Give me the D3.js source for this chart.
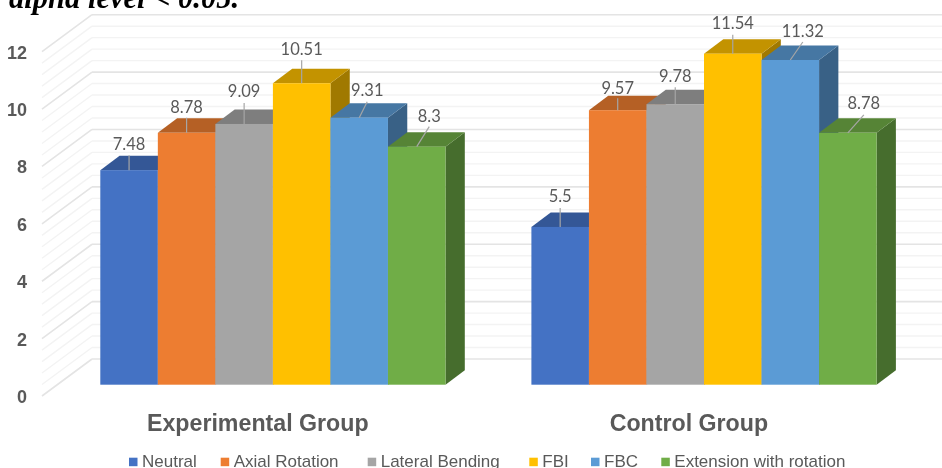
<!DOCTYPE html>
<html>
<head>
<meta charset="utf-8">
<script src="https://cdn.jsdelivr.net/npm/d3@7"></script>
<style>
  html, body { margin: 0; padding: 0; background: #fff; overflow: hidden; }
  text { font-family: "Liberation Sans", sans-serif; }
  svg { filter: blur(0.35px); display: block; }
</style>
</head>
<body>
<div id="chart"></div>
<script>
// data
const groups = ["Experimental Group", "Control Group"];
const seriesNames = ["Neutral", "Axial Rotation", "Lateral Bending", "FBI", "FBC", "Extension with rotation"];
const experimental = [7.48, 8.78, 9.09, 10.51, 9.31, 8.3];
const control = [5.5, 9.57, 9.78, 11.54, 11.32, 8.78];
const yTicks = [0, 2, 4, 6, 8, 10, 12];

const colors = ["#4472c4", "#ed7d31", "#a5a5a5", "#ffc000", "#5b9bd5", "#70ad47"];
const groupValues = [experimental, control];

// dimensions
const width = 942;
const height = 468;
const frontBase = 384.7;      // bars stand on this line
const frontTop = 40.5;        // where 12 would be on the bar front plane
const depth = {x: 19.3, y: -14.5};   // bar depth
const wallOffset = {x: 50, y: -37};  // axis front edge to back wall
const axisX = 42;
const axisBase = 396;
const wallTop = 14.7;

const svg = d3.select("#chart")
    .append("svg")
    .attr("width", width)
    .attr("height", height);

// y on the bar plane, y on the back wall
const y = d3.scaleLinear().domain([0, 12]).range([frontBase, frontTop]);
const yWall = d3.scaleLinear().domain([0, 12]).range([axisBase + wallOffset.y, wallTop]);

const x0 = d3.scaleOrdinal().domain(groups).range([100.3, 531.4]);
const x1 = d3.scaleBand().domain(seriesNames).range([0, 345.2]);

// clipped caption above the chart
svg.append("text")
    .attr("x", -7)
    .attr("y", 8)
    .style("font-family", "'Liberation Serif', serif")
    .attr("font-size", 30.5)
    .attr("font-weight", "bold")
    .attr("font-style", "italic")
    .attr("fill", "#000")
    .text("l alpha level < 0.05.");

// gridlines, major every 2 and minor every 0.4
const gridValues = d3.range(0, 31).map(d => d * 0.4);
const grid = svg.append("g");
gridValues.forEach(function(v, i) {
    const major = i % 5 === 0;
    const c = major ? "#e4e4e4" : "#f3f3f3";
    const w = major ? 1.6 : 1.4;
    grid.append("line")
        .attr("x1", axisX + wallOffset.x).attr("x2", width)
        .attr("y1", yWall(v)).attr("y2", yWall(v))
        .attr("stroke", c).attr("stroke-width", w);
    grid.append("line")
        .attr("x1", axisX).attr("x2", axisX + wallOffset.x)
        .attr("y1", yWall(v) - wallOffset.y).attr("y2", yWall(v))
        .attr("stroke", c).attr("stroke-width", w);
});

// y axis labels
svg.append("g").selectAll("text")
    .data(yTicks)
    .join("text")
    .attr("x", 27)
    .attr("y", d => yWall(d) - wallOffset.y + 7)
    .attr("text-anchor", "end")
    .attr("font-size", 18)
    .attr("font-weight", "bold")
    .attr("fill", "#595959")
    .text(d => d);

// label shift from the bar's top centre, per group and series
const labelShiftX = [[0, 0, 0, 0, 8, 12.5], [0, 0, 0, 0, 12.5, 16]];
const labelShiftY = [[-27, -27, -34, -35, -29, -32], [-32, -23, -29, -32, -30, -31]];
const leaderStop = [[-15, -15, -21, -23, -16, -20], [-19, -12, -17, -19, -18, -18]];

const shade = (c, k) => d3.color(c).darker(k).formatHex();

groups.forEach(function(group, g) {
    const bars = svg.append("g");
    groupValues[g].forEach(function(v, s) {
        const name = seriesNames[s];
        const left = x0(group) + x1(name);
        const right = left + x1.bandwidth();
        const top = y(v);

        // side face, then top face, then the front
        bars.append("path")
            .attr("d", d3.line()([[right, top], [right + depth.x, top + depth.y],
                [right + depth.x, frontBase + depth.y], [right, frontBase]]) + "Z")
            .attr("fill", shade(colors[s], 1.3));
        bars.append("path")
            .attr("d", d3.line()([[left, top], [left + depth.x, top + depth.y],
                [right + depth.x, top + depth.y], [right, top]]) + "Z")
            .attr("fill", shade(colors[s], 0.75));
        bars.append("rect")
            .attr("x", left)
            .attr("y", top)
            .attr("width", x1.bandwidth())
            .attr("height", frontBase - top)
            .attr("fill", colors[s]);
    });
});

// data labels and their leader lines go over all bars
groups.forEach(function(group, g) {
    const labels = svg.append("g");
    groupValues[g].forEach(function(v, s) {
        const cx = x0(group) + x1(seriesNames[s]) + x1.bandwidth() / 2;
        const top = y(v);
        labels.append("line")
            .attr("x1", cx).attr("y1", top)
            .attr("x2", cx + labelShiftX[g][s]).attr("y2", top + leaderStop[g][s])
            .attr("stroke", "#a6a6a6").attr("stroke-width", 1.2);
        labels.append("text")
            .attr("x", cx + labelShiftX[g][s])
            .attr("y", top + labelShiftY[g][s] + 7)
            .attr("text-anchor", "middle")
            .style("font-family", "Lato, sans-serif")
            .attr("font-size", 16.5)
            .attr("fill", "#595959")
            .text(v);
    });

    // group name under the bars
    svg.append("text")
        .attr("x", x0(group) + 157.5)
        .attr("y", 431)
        .attr("text-anchor", "middle")
        .attr("font-size", 23.2)
        .attr("font-weight", "bold")
        .attr("fill", "#595959")
        .text(group);
});

// legend
const legendX = [129, 220.7, 367.7, 529.3, 591, 661.3];
const legend = svg.append("g");
seriesNames.forEach(function(name, s) {
    legend.append("rect")
        .attr("x", legendX[s])
        .attr("y", 457.7)
        .attr("width", 8.5)
        .attr("height", 8.5)
        .attr("fill", colors[s]);
    legend.append("text")
        .attr("x", legendX[s] + 13)
        .attr("y", 467)
        .attr("font-size", 17)
        .attr("fill", "#595959")
        .text(name);
});
</script>
</body>
</html>
